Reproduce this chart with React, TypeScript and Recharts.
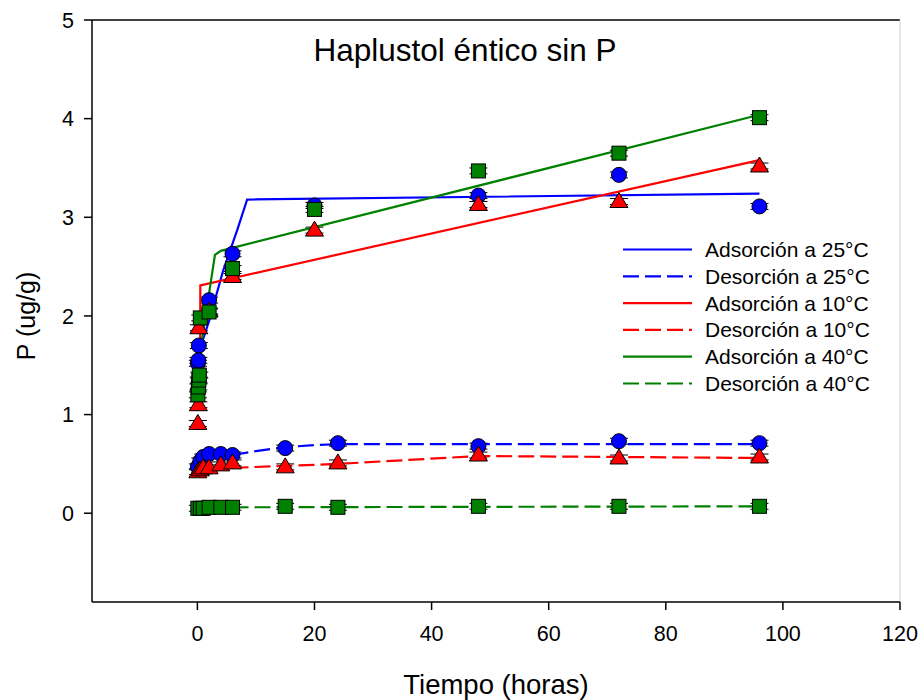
import React from 'react';
import {
  ScatterChart,
  Scatter,
  XAxis,
  YAxis,
  ErrorBar,
  ReferenceLine
} from 'recharts';

const FONT = '"Liberation Sans", Arial, sans-serif';

const BLUE = '#0000ff';
const RED = '#ff0000';
const GREEN = '#008000';

// tick labels
const xTicks = [0, 20, 40, 60, 80, 100, 120];
const yTicks = [0, 1, 2, 3, 4, 5];

// adsorption, measured points
const tAds25 = [0.08, 0.17, 0.25, 2, 6, 20, 48, 72, 96];
const pAds25 = [1.52, 1.55, 1.7, 2.16, 2.63, 3.12, 3.22, 3.43, 3.11];
const tAds10 = [0.08, 0.17, 0.25, 2, 6, 20, 48, 72, 96];
const pAds10 = [0.91, 1.1, 1.88, 2.05, 2.4, 2.87, 3.13, 3.16, 3.52];
const tAds40 = [0.08, 0.17, 0.25, 0.33, 0.5, 2, 6, 20, 48, 72, 96];
const pAds40 = [1.2, 1.28, 1.35, 1.4, 1.98, 2.04, 2.48, 3.08, 3.47, 3.65, 4.01];

// desorption, measured points
const tDes = [0.08, 0.5, 1, 2, 4, 6, 15, 24, 48, 72, 96];
const pDes25 = [0.47, 0.53, 0.57, 0.6, 0.6, 0.59, 0.66, 0.71, 0.68, 0.73, 0.71];
const pDes10 = [0.42, 0.44, 0.46, 0.46, 0.49, 0.51, 0.47, 0.51, 0.59, 0.56, 0.57];
const pDes40 = [0.05, 0.05, 0.05, 0.06, 0.06, 0.06, 0.07, 0.06, 0.07, 0.07, 0.07];

const ERR = 0.03;

// fitted curves
const tFitA25 = [0, 0.5, 2, 4.4, 6.8, 8.5, 96];
const pFitA25 = [1.45, 1.68, 1.95, 2.46, 2.87, 3.18, 3.24];
const tFitA10 = [0.45, 0.5, 96];
const pFitA10 = [1.1, 2.31, 3.58];
const tFitA40 = [0, 0.5, 3, 4, 96];
const pFitA40 = [1.2, 1.65, 2.62, 2.66, 4.04];

const tFitD25 = [6, 10, 15, 20, 24, 48, 96];
const pFitD25 = [0.59, 0.63, 0.67, 0.69, 0.7, 0.7, 0.7];
const tFitD10 = [6, 15, 24, 36, 48, 72, 96];
const pFitD10 = [0.46, 0.48, 0.5, 0.54, 0.58, 0.57, 0.56];
const tFitD40 = [6, 96];
const pFitD40 = [0.06, 0.07];

const legendItems = [
  { label: 'Adsorción a 25°C', color: BLUE, dash: undefined },
  { label: 'Desorción a 25°C', color: BLUE, dash: '16 6' },
  { label: 'Adsorción a 10°C', color: RED, dash: undefined },
  { label: 'Desorción a 10°C', color: RED, dash: '16 6' },
  { label: 'Adsorción a 40°C', color: GREEN, dash: undefined },
  { label: 'Desorción a 40°C', color: GREEN, dash: '16 6' }
];

const toPoints = (t: number[], p: number[], withErr = false) =>
  t.map((x, i) => (withErr ? { t: x, p: p[i], e: ERR } : { t: x, p: p[i] }));

const NoDot = () => <g />;

const CircleDot = (props: any) => (
  <circle cx={props.cx} cy={props.cy} r={7.5} fill={BLUE} stroke="#000" strokeWidth={1} />
);

const TriangleDot = (props: any) => {
  const { cx, cy } = props;
  return (
    <polygon
      points={`${cx},${cy - 9} ${cx - 9},${cy + 6} ${cx + 9},${cy + 6}`}
      fill={RED}
      stroke="#000"
      strokeWidth={1}
    />
  );
};

const SquareDot = (props: any) => (
  <rect x={props.cx - 7} y={props.cy - 7} width={14} height={14} fill={GREEN} stroke="#000" strokeWidth={1} />
);

const fitLine = (color: string, dash?: string) => ({
  stroke: color,
  strokeWidth: 2.2,
  strokeDasharray: dash
});

export default function App() {
  const markers = [
    { data: [...toPoints(tAds25, pAds25, true), ...toPoints(tDes, pDes25, true)], shape: CircleDot },
    { data: [...toPoints(tAds10, pAds10, true), ...toPoints(tDes, pDes10, true)], shape: TriangleDot },
    { data: [...toPoints(tAds40, pAds40, true), ...toPoints(tDes, pDes40, true)], shape: SquareDot }
  ];

  const fits = [
    { data: toPoints(tFitA25, pFitA25), line: fitLine(BLUE) },
    { data: toPoints(tFitD25, pFitD25), line: fitLine(BLUE, '16 6') },
    { data: toPoints(tFitA10, pFitA10), line: fitLine(RED) },
    { data: toPoints(tFitD10, pFitD10), line: fitLine(RED, '16 6') },
    { data: toPoints(tFitA40, pFitA40), line: fitLine(GREEN) },
    { data: toPoints(tFitD40, pFitD40), line: fitLine(GREEN, '16 6') }
  ];

  const tickStyle = { fontSize: 21.5, fill: '#000', fontFamily: FONT };

  return (
    <div style={{ position: 'absolute', left: 0, top: 0, width: 924, height: 700, background: '#fff' }}>
      <ScatterChart width={924} height={700} margin={{ top: 20, right: 24, left: 0, bottom: 0 }}>
        <XAxis
          type="number"
          dataKey="t"
          domain={[-18, 120]}
          ticks={xTicks}
          allowDataOverflow
          height={98}
          tickSize={8}
          tickMargin={16}
          tick={tickStyle}
          axisLine={{ stroke: '#000', strokeWidth: 1.5 }}
          tickLine={{ stroke: '#000', strokeWidth: 1.5 }}
        />
        <YAxis
          type="number"
          dataKey="p"
          domain={[-0.9, 5]}
          ticks={yTicks}
          allowDataOverflow
          width={92}
          tickSize={8}
          tickMargin={10}
          tick={tickStyle}
          axisLine={{ stroke: '#000', strokeWidth: 1.5 }}
          tickLine={{ stroke: '#000', strokeWidth: 1.5 }}
        />
        <ReferenceLine y={5} stroke="#000" strokeWidth={1.5} />
        <ReferenceLine x={120} stroke="#cfcfcf" strokeWidth={1} />
        {fits.map((f, i) => (
          <Scatter
            key={`fit-${i}`}
            data={f.data}
            line={f.line}
            shape={NoDot}
            isAnimationActive={false}
          />
        ))}
        {markers.map((m, i) => (
          <Scatter key={`pts-${i}`} data={m.data} shape={m.shape} isAnimationActive={false}>
            <ErrorBar dataKey="e" direction="y" width={9} stroke="#000" strokeWidth={1} />
          </Scatter>
        ))}
      </ScatterChart>
      <svg
        width={924}
        height={700}
        style={{ position: 'absolute', left: 0, top: 0, pointerEvents: 'none' }}
        fontFamily={FONT}
      >
        <text x={465} y={50} fontSize={31.5} textAnchor="middle" dominantBaseline="central" fill="#000">
          Haplustol éntico sin P
        </text>
        <text
          transform="translate(26,316) rotate(-90)"
          fontSize={25}
          textAnchor="middle"
          dominantBaseline="central"
          fill="#000"
        >
          P (ug/g)
        </text>
        <text x={496} y={684} fontSize={27.5} textAnchor="middle" dominantBaseline="central" fill="#000">
          Tiempo (horas)
        </text>
        {legendItems.map((item, i) => {
          const y = 249.5 + i * 26.8;
          return (
            <g key={item.label}>
              <line x1={623} x2={692} y1={y} y2={y} stroke={item.color} strokeWidth={2.2} strokeDasharray={item.dash} />
              <text x={705} y={y} fontSize={21} dominantBaseline="central" fill="#000">
                {item.label}
              </text>
            </g>
          );
        })}
      </svg>
    </div>
  );
}
